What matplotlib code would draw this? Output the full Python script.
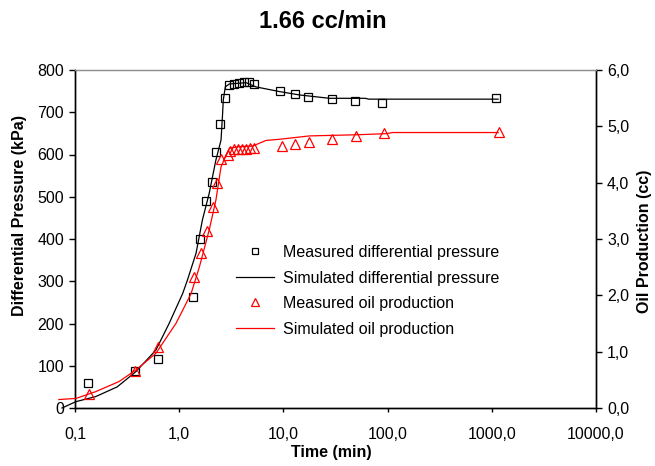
import matplotlib
matplotlib.use("Agg")
import matplotlib.pyplot as plt
from matplotlib.ticker import FixedLocator, NullLocator, FuncFormatter
from matplotlib.lines import Line2D

plt.rcParams['font.family'] = ['Liberation Sans', 'DejaVu Sans']

title = "1.66 cc/min"
xlabel = "Time (min)"
ylabel_left = "Differential Pressure (kPa)"
ylabel_right = "Oil Production (cc)"
legend_labels = ["Measured differential pressure", "Simulated differential pressure",
                 "Measured oil production", "Simulated oil production"]

# Measured differential pressure (kPa)
meas_p_t = [0.133, 0.378, 0.62, 1.37, 1.59, 1.81, 2.05, 2.27, 2.46, 2.77,
            3.03, 3.38, 3.77, 4.21, 4.71, 5.26, 9.35, 13.0, 17.3, 29.1, 48.9, 88.9, 1109]
meas_p = [58, 88, 116, 263, 400, 489, 536, 605, 672, 734,
          764, 768, 770, 772, 771, 766, 751, 744, 737, 731, 727, 723, 734]

# Simulated differential pressure (kPa)
sim_p_t = [0.075, 0.102, 0.158, 0.254, 0.384, 0.597, 0.80, 1.08, 1.20, 1.45, 1.67,
           1.94, 2.25, 2.52, 2.60, 2.65, 2.77, 3.03, 4.38, 5.46, 9.15, 14.2, 27.7,
           61, 66, 1150]
sim_p = [0, 15, 27, 50, 86, 137, 200, 271, 303, 366, 445,
         508, 587, 634, 690, 729, 760, 767, 770, 760, 749, 741, 733,
         733, 731, 731]

# Measured oil production (cc)
meas_o_t = [0.136, 0.378, 0.632, 1.39, 1.62, 1.85, 2.09, 2.32, 2.52, 2.91,
            3.09, 3.38, 3.69, 4.03, 4.41, 4.82, 5.26, 9.6, 13.0, 17.7, 29.5, 50, 92.5, 1170]
meas_o = [0.25, 0.66, 1.09, 2.32, 2.76, 3.15, 3.57, 4.00, 4.42, 4.49,
          4.57, 4.59, 4.60, 4.60, 4.60, 4.61, 4.62, 4.65, 4.69, 4.73, 4.77, 4.82, 4.88, 4.90]

# Simulated oil production (cc)
sim_o_t = [0.070, 0.102, 0.158, 0.265, 0.384, 0.597, 0.93, 1.30, 1.56, 1.94, 2.25,
           2.52, 2.77, 3.03, 3.78, 5.07, 6.82, 9.15, 17.8, 50, 97, 112, 1150]
sim_o = [0.15, 0.17, 0.29, 0.47, 0.675, 0.97, 1.50, 2.03, 2.50, 3.16, 3.69,
         4.28, 4.46, 4.61, 4.64, 4.65, 4.75, 4.77, 4.83, 4.85, 4.87, 4.89, 4.89]

x_ticks = [0.1, 1, 10, 100, 1000, 10000]
y_left_ticks = [0, 100, 200, 300, 400, 500, 600, 700, 800]
y_right_ticks = [0, 1, 2, 3, 4, 5, 6]

W, H = 655, 466
fig = plt.figure(figsize=(W / 100, H / 100), dpi=100)
L, R, T, B = 75, 596, 70, 408
ax = fig.add_axes([L / W, 1 - B / H, (R - L) / W, (B - T) / H])
ax2 = ax.twinx()

ax.set_xscale('log')
ax.set_xlim(0.1, 10000)
ax.set_ylim(0, 800)
ax2.set_ylim(0, 6)

lw = 0.9
ax.plot(sim_p_t, sim_p, color='black', lw=lw, clip_on=False, zorder=3)
ax.plot(meas_p_t, meas_p, linestyle='none', marker='s', ms=6.2, mfc='none',
        mec='black', mew=0.9, clip_on=False, zorder=4)
ax2.plot(sim_o_t, sim_o, color='#ff0000', lw=lw, clip_on=False, zorder=3)
ax2.plot(meas_o_t, meas_o, linestyle='none', marker='^', ms=7.5, mfc='none',
         mec='#ff0000', mew=0.9, clip_on=False, zorder=4)

fs = 11.5
ax.xaxis.set_major_locator(FixedLocator(x_ticks))
ax.xaxis.set_minor_locator(NullLocator())
ax.xaxis.set_major_formatter(FuncFormatter(lambda v, p: f"{v:.1f}".replace('.', ',')))
ax.yaxis.set_major_locator(FixedLocator(y_left_ticks))
ax2.yaxis.set_major_locator(FixedLocator(y_right_ticks))
ax2.yaxis.set_major_formatter(FuncFormatter(lambda v, p: f"{v:.1f}".replace('.', ',')))

ax.tick_params(axis='x', direction='out', length=3, width=1, pad=11, labelsize=fs, colors='black')
ax.tick_params(axis='y', direction='out', length=4, width=1, pad=4, labelsize=fs)
ax2.tick_params(axis='y', direction='out', length=4, width=1, pad=4, labelsize=fs)

for a in (ax, ax2):
    a.spines['top'].set_color('#909090')
    a.spines['top'].set_linewidth(0.9)
    for s in ('left', 'bottom', 'right'):
        a.spines[s].set_linewidth(1.0)
        a.spines[s].set_color('black')

fig.text(323 / W, 1 - 21 / H, title, ha='center', va='center', fontsize=17, fontweight='bold')
fig.text(331 / W, 1 - 453 / H, xlabel, ha='center', va='center', fontsize=fs, fontweight='bold')
fig.text(20 / W, 1 - 216 / H, ylabel_left, ha='center', va='center', rotation=90,
         fontsize=fs, fontweight='bold')
fig.text(645 / W, 1 - 241 / H, ylabel_right, ha='center', va='center', rotation=90,
         fontsize=fs, fontweight='bold')

handles = [
    Line2D([], [], linestyle='none', marker='s', ms=5, mfc='none', mec='black', mew=0.9),
    Line2D([], [], color='black', lw=lw),
    Line2D([], [], linestyle='none', marker='^', ms=5.5, mfc='none', mec='#ff0000', mew=0.9),
    Line2D([], [], color='#ff0000', lw=lw),
]
ax2.legend(handles, legend_labels, loc='upper left', bbox_to_anchor=(236 / W, 1 - 245 / H),
           bbox_transform=fig.transFigure, frameon=False, fontsize=fs,
           handlelength=2.4, handletextpad=0.55, labelspacing=0.66, borderpad=0, borderaxespad=0)

fig.savefig("out.png", dpi=100)
